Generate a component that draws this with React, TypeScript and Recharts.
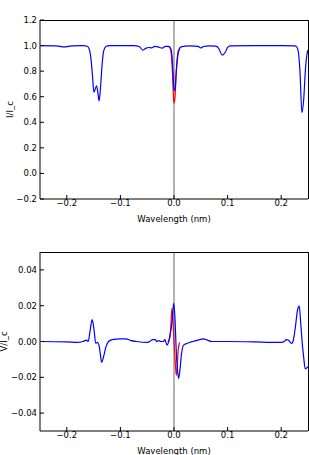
import React from 'react';
import { LineChart, Line, XAxis, YAxis, ReferenceLine } from 'recharts';

const FONT = '"DejaVu Sans", sans-serif';
const FS = 8.5;

// Stokes I / I_c panel
const iWl = [
  -0.25, -0.22, -0.205, -0.19, -0.17, -0.162, -0.158, -0.155, -0.152, -0.1495,
  -0.1445, -0.142, -0.1397, -0.137, -0.134, -0.131, -0.127, -0.12, -0.075, -0.065,
  -0.058, -0.052, -0.047, -0.042, -0.036, -0.03, -0.022, -0.016, -0.01, -0.006,
  -0.004, -0.002, 0.0, 0.002, 0.004, 0.006, 0.009, 0.013, 0.02, 0.03,
  0.045, 0.05, 0.055, 0.065, 0.078, 0.083, 0.09, 0.096, 0.1, 0.105,
  0.15, 0.2, 0.225, 0.229, 0.232, 0.235, 0.2387, 0.242, 0.245, 0.248, 0.25,
];
const iBlue = [
  1.0, 0.998, 0.99, 0.998, 1.0, 0.995, 0.97, 0.9, 0.76, 0.635,
  0.685, 0.63, 0.567, 0.68, 0.86, 0.96, 0.993, 1.0, 1.0, 0.993,
  0.965, 0.98, 0.985, 0.982, 0.993, 0.99, 0.98, 0.993, 0.993, 0.975,
  0.93, 0.8, 0.65, 0.66, 0.78, 0.88, 0.96, 0.99, 0.995, 0.998,
  0.993, 0.982, 0.993, 0.998, 0.995, 0.98, 0.926, 0.95, 0.985, 0.998,
  1.0, 1.0, 0.998, 0.99, 0.95, 0.8, 0.475, 0.58, 0.8, 0.93, 0.965,
];
const iRedWl = [-0.012, -0.008, -0.005, -0.003, -0.001, 0.0, 0.002, 0.004, 0.006, 0.008, 0.011];
const iRed = [0.995, 0.985, 0.93, 0.8, 0.6, 0.549, 0.6, 0.78, 0.9, 0.96, 0.98];

// Stokes V / I_c panel
const vWl = [
  -0.25, -0.2, -0.18, -0.17, -0.163, -0.16, -0.157, -0.1527, -0.149, -0.146,
  -0.143, -0.14, -0.137, -0.1352, -0.131, -0.127, -0.122, -0.115, -0.1, -0.09,
  -0.08, -0.07, -0.05, -0.045, -0.04, -0.035, -0.032, -0.028, -0.025, -0.02,
  -0.017, -0.013, -0.009, -0.006, -0.003, -0.0007, 0.002, 0.004, 0.006, 0.0086,
  0.011, 0.014, 0.018, 0.025, 0.035, 0.045, 0.055, 0.062, 0.07, 0.1,
  0.15, 0.19, 0.2, 0.206, 0.209, 0.213, 0.2195, 0.222, 0.226, 0.2307,
  0.2337, 0.236, 0.239, 0.242, 0.2449, 0.25,
];
const vBlue = [
  0.0, -0.0002, -0.0005, 0.0, 0.0008, 0.0, 0.005, 0.0123, 0.006, -0.001,
  -0.0005, -0.002, -0.008, -0.0116, -0.008, -0.003, 0.0, 0.001, 0.0015, 0.0015,
  0.0005, 0.0, -0.0005, 0.0, 0.001, 0.001, 0.0, 0.0005, 0.0, 0.0,
  0.001, -0.002, 0.001, 0.006, 0.013, 0.0213, 0.012, -0.004, -0.014, -0.0207,
  -0.016, -0.007, -0.002, -0.001, 0.0, 0.0008, 0.0015, 0.0008, 0.0, 0.0,
  -0.0002, -0.0005, -0.0005, 0.0, 0.0011, 0.0008, -0.0011, 0.0, 0.007, 0.018,
  0.0198, 0.012, 0.0, -0.009, -0.0153, -0.014,
];
const vRedWl = [-0.0113, -0.008, -0.006, -0.0039, -0.002, 0.0, 0.002, 0.0043, 0.006, 0.008, 0.0107];
const vRed = [-0.0005, 0.002, 0.008, 0.0185, 0.012, 0.0, -0.01, -0.0189, -0.014, -0.004, -0.0006];

const xTicks = [-0.2, -0.1, 0, 0.1, 0.2];
const iTicks = [-0.2, 0, 0.2, 0.4, 0.6, 0.8, 1.0, 1.2];
const vTicks = [-0.04, -0.02, 0, 0.02, 0.04];

const X_DOMAIN: [number, number] = [-0.25, 0.25];

const pairs = (xs: number[], ys: number[]) => xs.map((wl, k) => ({ wl, val: ys[k] }));

const fmt = (digits: number) => (v: number) => {
  const s = Math.abs(v).toFixed(digits);
  return v < -1e-9 ? '\u2212' + s : s;
};

const textStyle = { fontFamily: FONT, fontSize: FS, fill: '#000' };

const BottomTick = (f: (v: number) => string) => (p: any) => (
  <g>
    <line x1={p.x} y1={p.y} x2={p.x} y2={p.y - 4} stroke="#000" />
    <text x={p.x} y={p.y + 1} dy="0.71em" textAnchor="middle" style={textStyle}>
      {f(p.payload.value)}
    </text>
  </g>
);
const LeftTick = (f: (v: number) => string) => (p: any) => (
  <g>
    <line x1={p.x} y1={p.y} x2={p.x + 4} y2={p.y} stroke="#000" />
    <text x={p.x - 3} y={p.y} dy="0.355em" textAnchor="end" style={textStyle}>
      {f(p.payload.value)}
    </text>
  </g>
);

const xLabel = (props: any) => {
  const vb = props.viewBox;
  return (
    <text x={vb.x + vb.width / 2} y={vb.y + 22.5} textAnchor="middle" style={textStyle}>
      Wavelength (nm)
    </text>
  );
};
const yLabel = (text: string, baseX: number) => (props: any) => {
  const vb = props.viewBox;
  const cy = vb.y + vb.height / 2;
  return (
    <text x={baseX} y={cy} transform={`rotate(-90 ${baseX} ${cy})`} textAnchor="middle" style={textStyle}>
      {text}
    </text>
  );
};

type PanelProps = {
  height: number;
  marginTop: number;
  xHeight: number;
  blue: { wl: number; val: number }[];
  red: { wl: number; val: number }[];
  domain: [number, number];
  ticks: number[];
  digits: number;
  label: string;
  labelX: number;
};

const Panel = ({ height, marginTop, xHeight, blue, red, domain, ticks, digits, label, labelX }: PanelProps) => (
  <div style={{ position: 'relative', width: 309, height }}>
    <LineChart width={309} height={height} margin={{ top: marginTop, right: 1, bottom: 0, left: 0 }}>
      <XAxis
        dataKey="wl"
        type="number"
        domain={X_DOMAIN}
        allowDataOverflow
        ticks={xTicks}
        interval={0}
        tickSize={0}
        tickMargin={0}
        tickLine={false}
        height={xHeight}
        stroke="#000"
        tick={BottomTick(fmt(1))}
        label={xLabel}
      />
      <YAxis
        type="number"
        domain={domain}
        allowDataOverflow
        ticks={ticks}
        interval={0}
        tickSize={0}
        tickMargin={0}
        tickLine={false}
        width={40}
        stroke="#000"
        tick={LeftTick(fmt(digits))}
        label={yLabel(label, labelX)}
      />
      <ReferenceLine x={0} stroke="#666" strokeWidth={1} ifOverflow="visible" />
      <Line data={red} dataKey="val" type="monotone" stroke="#ff0000" strokeWidth={1.2} dot={false} activeDot={false} isAnimationActive={false} />
      <Line data={blue} dataKey="val" type="monotone" stroke="#0000ff" strokeWidth={1.2} dot={false} activeDot={false} isAnimationActive={false} />
    </LineChart>
    {/* top and right spines of the matplotlib-style box */}
    <div
      style={{
        position: 'absolute',
        left: 40,
        top: marginTop,
        width: 269,
        height: height - marginTop - xHeight,
        boxSizing: 'border-box',
        borderTop: '1px solid #000',
        borderRight: '1px solid #000',
        pointerEvents: 'none',
      }}
    />
  </div>
);

export default function App() {
  return (
    <div style={{ position: 'absolute', left: 0, top: 0, width: 309, height: 455, background: '#fff' }}>
      <Panel
        height={230}
        marginTop={20}
        xHeight={31}
        blue={pairs(iWl, iBlue)}
        red={pairs(iRedWl, iRed)}
        domain={[-0.2, 1.2]}
        ticks={iTicks}
        digits={1}
        label="I/I_c"
        labelX={12.5}
      />
      <Panel
        height={225}
        marginTop={22}
        xHeight={24}
        blue={pairs(vWl, vBlue)}
        red={pairs(vRedWl, vRed)}
        domain={[-0.05, 0.05]}
        ticks={vTicks}
        digits={2}
        label="V/I_c"
        labelX={6.5}
      />
    </div>
  );
}
